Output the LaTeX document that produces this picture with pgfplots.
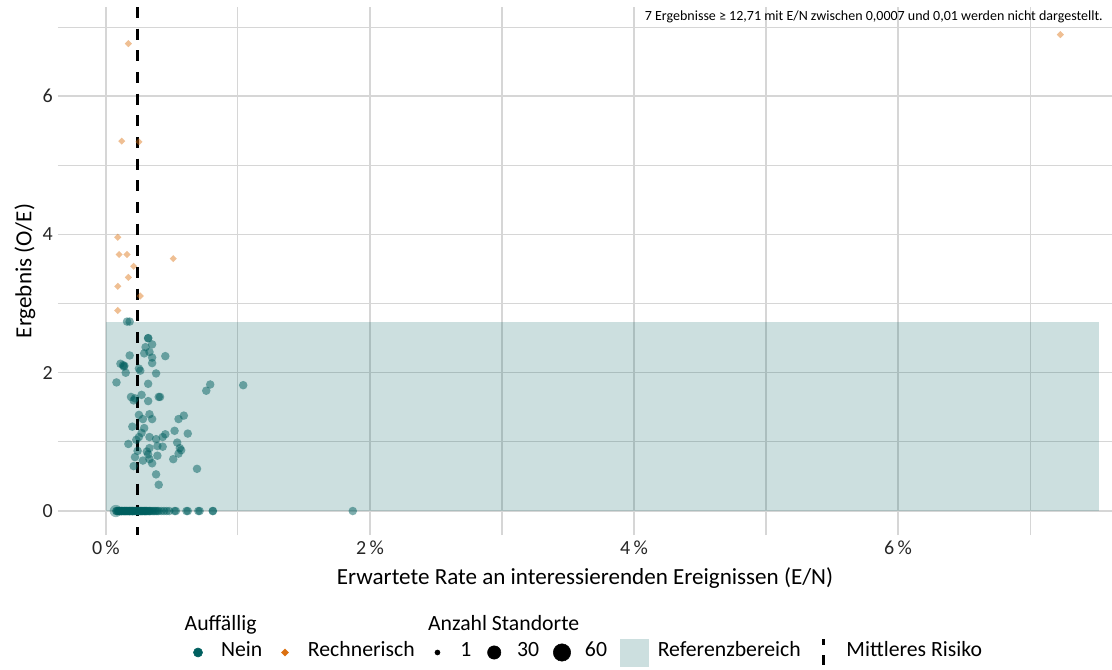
\documentclass[border=0pt]{standalone}
\usepackage{pgfplots}
\pgfplotsset{compat=1.18}
\usepackage{fontspec}
\setmainfont{Carlito}
\definecolor{tealc}{RGB}{0,95,95}
\definecolor{orangec}{RGB}{219,112,16}
\definecolor{refc}{RGB}{204,223,223}
\definecolor{gridc}{RGB}{214,214,214}

\begin{document}
\begin{tikzpicture}
\path[use as bounding box] (0,0) rectangle (834pt,501.75pt);
\begin{axis}[
  at={(43.5pt,100.5pt)}, anchor=south west,
  scale only axis, width=790.5pt, height=396pt,
  xmin=-0.363, xmax=7.621, ymin=-0.347, ymax=7.29,
  axis line style={draw=none},
  xtick={0,2,4,6}, xticklabels={0\,\%,2\,\%,4\,\%,6\,\%},
  ytick={0,2,4,6}, yticklabels={0,2,4,6},
  minor xtick={1,3,5,7}, minor ytick={1,3,5,7},
  major tick length=0pt, minor tick length=0pt,
  grid=both,
  major grid style={gridc, line width=1.1pt},
  minor grid style={gridc, line width=0.8pt},
  tick label style={font=\fontsize{15}{18}\selectfont, text=black!85, inner sep=0pt},
  xticklabel style={anchor=north, yshift=-4.5pt},
  yticklabel style={anchor=east, xshift=-3.75pt},
  xlabel={Erwartete Rate an interessierenden Ereignissen (E/N)},
  ylabel={Ergebnis (O/E)},
  label style={font=\fontsize{17.3}{20}\selectfont},
  xlabel style={at={(rel axis cs:0.5,-0.0814)}, anchor=center},
  ylabel style={at={(rel axis cs:-0.0313,0.5)}, anchor=center},
  legend columns=-1,
  legend style={at={(rel axis cs:0.1243,-0.2216)}, anchor=west, draw=none, fill=none,
    inner sep=0pt, outer sep=0pt,
    /tikz/every odd column/.append style={column sep=10.5pt},
    /tikz/every even column/.append style={column sep=10.3pt},
    font=\fontsize{16.3}{19}\selectfont,
    nodes={inner sep=0pt, text height=0.644em, text depth=0pt}},
]
% Referenzbereich
\addplot[fill=tealc, fill opacity=0.2, draw=none, forget plot]
  coordinates {(0,0) (7.52,0) (7.52,2.73) (0,2.73)} -- cycle;

% Auffaellig: Nein
\addplot[only marks, color=tealc, mark=*, mark size=4.6pt,
  mark options={fill=tealc, fill opacity=0.4, draw opacity=0}, forget plot]
  coordinates {(0.075,0)};
\addplot[only marks, color=tealc, mark=*, mark size=3.2pt,
  mark options={fill=tealc, fill opacity=0.5, draw opacity=0}, forget plot] coordinates {
(0.16,2.74) (0.18,2.74) (0.32,2.50) (0.32,2.50) (0.35,2.41) (0.30,2.37)
(0.29,2.28) (0.33,2.30) (0.35,2.22) (0.35,2.14) (0.45,2.24) (0.18,2.25)
(0.11,2.13) (0.13,2.11) (0.14,2.10) (0.135,2.09) (0.15,2.00) (0.25,2.06) (0.26,2.03)
(0.38,1.99) (0.08,1.86) (0.32,1.84) (0.79,1.83) (0.76,1.74) (1.04,1.82)
(0.19,1.65) (0.22,1.63) (0.21,1.60) (0.27,1.68) (0.40,1.65) (0.41,1.65)
(0.32,1.59) (0.25,1.39) (0.33,1.40) (0.35,1.33) (0.28,1.33) (0.55,1.33)
(0.59,1.38) (0.20,1.22) (0.29,1.20) (0.27,1.13) (0.25,1.07) (0.23,1.03)
(0.33,1.07) (0.38,1.04) (0.43,1.07) (0.45,1.11) (0.52,1.16) (0.62,1.12)
(0.17,0.97) (0.39,0.94) (0.43,0.93) (0.33,0.91) (0.31,0.86) (0.32,0.82)
(0.24,0.87) (0.54,0.99) (0.56,0.91) (0.57,0.88) (0.55,0.83) (0.22,0.78)
(0.21,0.65) (0.28,0.73) (0.33,0.75) (0.35,0.69) (0.39,0.80) (0.51,0.75)
(0.69,0.61) (0.38,0.53) (0.40,0.38)
(0.08,0) (0.09,0) (0.10,0) (0.10,0) (0.11,0)
(0.12,0) (0.12,0) (0.13,0) (0.14,0) (0.14,0) (0.15,0) (0.16,0) (0.16,0)
(0.17,0) (0.18,0) (0.18,0) (0.19,0) (0.20,0) (0.20,0) (0.21,0) (0.22,0)
(0.23,0) (0.24,0) (0.25,0) (0.26,0) (0.27,0) (0.28,0) (0.29,0) (0.30,0)
(0.31,0) (0.32,0) (0.33,0) (0.35,0) (0.36,0) (0.38,0) (0.40,0) (0.42,0)
(0.46,0) (0.48,0) (0.52,0) (0.53,0) (0.61,0) (0.62,0) (0.70,0) (0.71,0)
(0.81,0) (1.87,0)
(0.08,0) (0.09,0) (0.11,0) (0.13,0) (0.15,0) (0.17,0) (0.19,0)
(0.21,0) (0.23,0) (0.25,0) (0.27,0) (0.29,0) (0.31,0) (0.34,0) (0.37,0)
(0.10,0) (0.12,0) (0.14,0) (0.16,0) (0.18,0) (0.20,0) (0.22,0) (0.24,0)
(0.26,0) (0.28,0) (0.30,0) (0.33,0) (0.39,0) (0.44,0) (0.81,0)
};

% Auffaellig: Rechnerisch
\addplot[only marks, color=orangec, mark=square*, mark size=1.9pt,
  mark options={rotate=45, fill=orangec, fill opacity=0.45, draw opacity=0}, forget plot] coordinates {
(0.17,6.76) (0.12,5.35) (0.25,5.34) (0.09,3.96) (0.10,3.71) (0.16,3.71)
(0.51,3.65) (0.21,3.54) (0.17,3.38) (0.09,3.25) (0.26,3.11) (0.09,2.90)
(7.23,6.89)
};

% Mittleres Risiko
\addplot[draw=black, line width=2.2pt, dash pattern=on 8.25pt off 8pt, forget plot]
  coordinates {(0.24,7.29) (0.24,-0.347)};

% Legende
\addlegendimage{legend image code/.code={\path[draw=none] (0pt,0pt) rectangle (13.5pt,0pt);
  \fill[tealc] (6.75pt,0pt) circle (3.4pt);}}
\addlegendentry{Nein}
\addlegendimage{legend image code/.code={\path[draw=none] (0pt,0pt) rectangle (13.5pt,0pt);
  \fill[orangec] (6.75pt,2.6pt) -- (9.35pt,0pt) -- (6.75pt,-2.6pt) -- (4.15pt,0pt) -- cycle;}}
\addlegendentry{Rechnerisch}
\addlegendimage{legend image code/.code={\path[draw=none] (0pt,0pt) rectangle (13.5pt,0pt);
  \fill[black] (6.75pt,0pt) circle (1.9pt);}}
\addlegendentry{1}
\addlegendimage{legend image code/.code={\path[draw=none] (0pt,0pt) rectangle (13.5pt,0pt);
  \fill[black] (6.75pt,0pt) circle (5pt);}}
\addlegendentry{30}
\addlegendimage{legend image code/.code={\path[draw=none] (0pt,0pt) rectangle (13.5pt,0pt);
  \fill[black] (6.75pt,0pt) circle (6.5pt);}}
\addlegendentry{60}
\addlegendimage{legend image code/.code={\path[draw=none] (0pt,-10.1pt) rectangle (17.25pt,10.1pt);
  \fill[refc, overlay] (0pt,-10.1pt) rectangle (21pt,10.1pt);}}
\addlegendentry{Referenzbereich}
\addlegendimage{legend image code/.code={\path[draw=none] (0pt,0pt) rectangle (13.5pt,0pt);
  \draw[black, line width=2.2pt, dash pattern=on 4.5pt off 7.5pt on 7.5pt]
    (6.75pt,10.1pt) -- (6.75pt,-9.4pt);}}
\addlegendentry{Mittleres Risiko}
\end{axis}
\node[anchor=base west, font=\fontsize{16.3}{19}\selectfont] at (135pt,29.25pt) {Auffällig};
\node[anchor=base west, font=\fontsize{16.3}{19}\selectfont] at (317.5pt,29.25pt) {Anzahl Standorte};
\node[anchor=base east, inner sep=0pt, font=\fontsize{10.5}{12}\selectfont] at (827.25pt,486.2pt)
  {7 Ergebnisse ≥ 12,71 mit E/N zwischen 0,0007 und 0,01 werden nicht dargestellt.};
\end{tikzpicture}
\end{document}
